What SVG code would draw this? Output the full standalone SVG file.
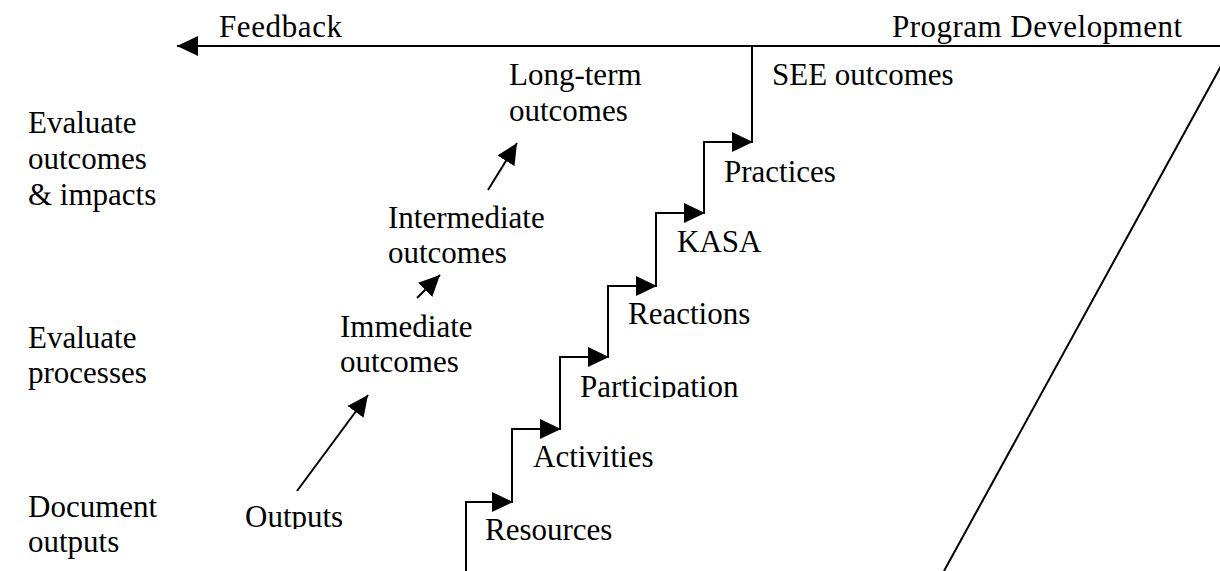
<svg xmlns="http://www.w3.org/2000/svg" width="1220" height="571" viewBox="0 0 1220 571">
<style>
text{font-family:"Liberation Serif","Times New Roman",serif;font-size:31px;fill:#000}
.ln{stroke:#000;stroke-width:2;fill:none}
</style>
<defs>
<marker id="ah" markerUnits="userSpaceOnUse" markerWidth="21" markerHeight="21" viewBox="0 0 21 20" refX="21" refY="10" orient="auto">
<path d="M0,0 L21,10 L0,20 z" fill="#000"/>
</marker>
<clipPath id="cPart"><rect x="570" y="360" width="200" height="38"/></clipPath>
<clipPath id="cOut"><rect x="235" y="490" width="120" height="39"/></clipPath>
</defs>
<rect width="1220" height="571" fill="#fff"/>
<g id="connectors">
<line class="ln" x1="1220" y1="46" x2="177" y2="46" marker-end="url(#ah)"/>
<line class="ln" x1="1221" y1="66" x2="944" y2="571"/>
<polyline class="ln" points="466,571 466,502 512,502 512,429 560,429 560,357 608,357 608,286 656,286 656,213 704,213 704,142 752,142 752,46"/>
<line class="ln" x1="466" y1="502" x2="513" y2="502" marker-end="url(#ah)"/>
<line class="ln" x1="512" y1="429" x2="561" y2="429" marker-end="url(#ah)"/>
<line class="ln" x1="560" y1="357" x2="609" y2="357" marker-end="url(#ah)"/>
<line class="ln" x1="608" y1="286" x2="657" y2="286" marker-end="url(#ah)"/>
<line class="ln" x1="656" y1="213" x2="705" y2="213" marker-end="url(#ah)"/>
<line class="ln" x1="704" y1="142" x2="753" y2="142" marker-end="url(#ah)"/>
<line class="ln" x1="297" y1="491" x2="368" y2="395" marker-end="url(#ah)"/>
<line class="ln" x1="417" y1="298" x2="440" y2="275" marker-end="url(#ah)"/>
<line class="ln" x1="488" y1="190" x2="517" y2="143" marker-end="url(#ah)"/>
</g>
<g id="feedback"><text x="219" y="37" textLength="123">Feedback</text></g>
<g id="program-development"><text x="892" y="37" textLength="290">Program Development</text></g>
<g id="see-outcomes"><text x="772" y="85">SEE outcomes</text></g>
<g id="long-term"><text x="509" y="85">Long-term</text><text x="509" y="121">outcomes</text></g>
<g id="intermediate"><text x="388" y="228">Intermediate</text><text x="388" y="263">outcomes</text></g>
<g id="immediate"><text x="340" y="337">Immediate</text><text x="340" y="372">outcomes</text></g>
<g id="outputs"><text x="245" y="527" clip-path="url(#cOut)">Outputs</text></g>
<g id="practices"><text x="724" y="182">Practices</text></g>
<g id="kasa"><text x="677" y="252">KASA</text></g>
<g id="reactions"><text x="628" y="324">Reactions</text></g>
<g id="participation"><text x="580" y="397" clip-path="url(#cPart)">Participation</text></g>
<g id="activities"><text x="533" y="467">Activities</text></g>
<g id="resources"><text x="485" y="540">Resources</text></g>
<g id="eval-outcomes"><text x="28" y="133">Evaluate</text><text x="28" y="169">outcomes</text><text x="28" y="205">&amp; impacts</text></g>
<g id="eval-processes"><text x="28" y="348">Evaluate</text><text x="28" y="383">processes</text></g>
<g id="document-outputs"><text x="28" y="517">Document</text><text x="28" y="552">outputs</text></g>
</svg>
